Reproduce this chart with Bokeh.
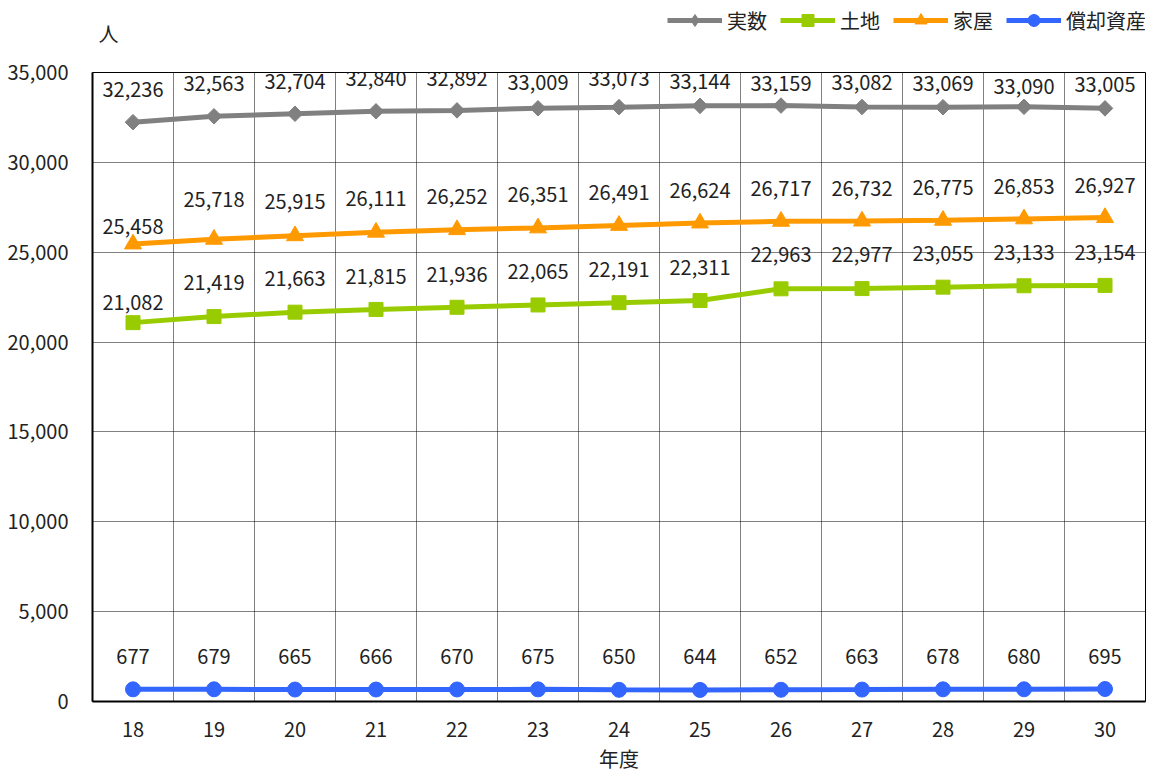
from bokeh.plotting import figure
from bokeh.models import (ColumnDataSource, FixedTicker, NumeralTickFormatter, Legend,
                          LegendItem, Range1d, Label)
from bokeh.layouts import column
from bokeh.core.properties import value
from bokeh.embed import file_html
from bokeh.resources import INLINE
import math

# ---- data ----
years = ["18", "19", "20", "21", "22", "23", "24", "25", "26", "27", "28", "29", "30"]
jissu = [32236, 32563, 32704, 32840, 32892, 33009, 33073, 33144, 33159, 33082, 33069, 33090, 33005]
tochi = [21082, 21419, 21663, 21815, 21936, 22065, 22191, 22311, 22963, 22977, 23055, 23133, 23154]
kaoku = [25458, 25718, 25915, 26111, 26252, 26351, 26491, 26624, 26717, 26732, 26775, 26853, 26927]
shokyaku = [677, 679, 665, 666, 670, 675, 650, 644, 652, 663, 678, 680, 695]
series_names = ["実数", "土地", "家屋", "償却資産"]
y_ticks = [0, 5000, 10000, 15000, 20000, 25000, 30000, 35000]

# ---- label placement (style, pixels) ----
jissu_off = [-33, -33, -32, -33, -32, -26, -29, -24, -22, -24, -24, -20, -24]
tochi_off = [-20, -34, -34, -33, -33, -33, -33, -33, -34, -34, -34, -33, -33]
kaoku_off = [-17, -40, -34, -34, -33, -33, -33, -33, -33, -33, -33, -32, -32]
shokyaku_off = [-33] * 13

FONT = "Noto Sans CJK JP"
TXT = "#222222"

xs = list(range(len(years)))

# ---------- header strip: unit label + legend ----------
top = figure(width=1160, height=50, output_backend="svg", toolbar_location=None,
             x_range=Range1d(0, 1), y_range=Range1d(0, 1),
             x_axis_location=None, y_axis_location=None,
             min_border_left=0, min_border_right=0, min_border_top=0, min_border_bottom=0)
top.outline_line_color = None
top.xgrid.visible = False
top.ygrid.visible = False
top.background_fill_color = "white"
top.border_fill_color = "white"

# ---------- main chart ----------
p = figure(width=1160, height=725, output_backend="svg", toolbar_location=None,
           x_range=Range1d(-0.5, len(years) - 0.5), y_range=Range1d(0, 35000),
           min_border_left=92, min_border_right=15, min_border_top=22, min_border_bottom=72)

p.background_fill_color = "white"
p.border_fill_color = "white"
p.outline_line_color = "black"
p.outline_line_width = 1

p.xaxis.ticker = FixedTicker(ticks=xs)
p.xaxis.major_label_overrides = {i: y for i, y in enumerate(years)}
p.yaxis.ticker = FixedTicker(ticks=y_ticks)
p.yaxis.formatter = NumeralTickFormatter(format="0,0")
for ax in (p.xaxis[0], p.yaxis[0]):
    ax.axis_line_color = "black"
    ax.axis_line_width = 2
    ax.major_tick_line_color = None
    ax.minor_tick_line_color = None
    ax.major_label_text_font = FONT
    ax.major_label_text_font_size = "20px"
    ax.major_label_text_color = TXT
p.yaxis.major_label_standoff = 18
p.xaxis.major_label_standoff = 14
p.xaxis.axis_label = "年度"
p.xaxis.axis_label_text_font = FONT
p.xaxis.axis_label_text_font_size = "20px"
p.xaxis.axis_label_text_font_style = "normal"
p.xaxis.axis_label_text_color = TXT
p.xaxis.axis_label_standoff = 4

p.xgrid.ticker = FixedTicker(ticks=[i + 0.5 for i in xs[:-1]])
p.xgrid.grid_line_color = "black"
p.xgrid.grid_line_dash = "1 1"
p.xgrid.grid_line_width = 1
p.ygrid.ticker = FixedTicker(ticks=y_ticks[1:-1])
p.ygrid.grid_line_color = "black"
p.ygrid.grid_line_dash = "1 1"
p.ygrid.grid_line_width = 1

styles = [
    (jissu, jissu_off, "#808080", "square", 11, math.pi / 4, "diamond", 15),
    (tochi, tochi_off, "#99cc00", "square", 14, 0, "square", 11),
    (kaoku, kaoku_off, "#ff9900", "triangle", 17, 0, "triangle", 13),
    (shokyaku, shokyaku_off, "#3366ff", "circle", 15, 0, "circle", 12),
]

items = []
for name, (vals, offs, color, marker, size, ang, lmarker, lsize) in zip(series_names, styles):
    src = ColumnDataSource(dict(x=xs, y=vals, lab=[f"{v:,}" for v in vals], off=offs))
    p.line("x", "y", source=src, line_color=color, line_width=5)
    p.scatter("x", "y", source=src, marker=marker, size=size, angle=ang,
              fill_color=color, line_color=color)
    p.text("x", "y", text="lab", source=src, y_offset="off", text_align="center",
           text_baseline="middle", text_font=value(FONT), text_font_size="20px",
           text_color=TXT)
    # legend proxies in the header strip (kept outside its visible range)
    proxy = ColumnDataSource(dict(x=[-10, -9], y=[-10, -10]))
    lr = top.line("x", "y", source=proxy, line_color=color, line_width=5)
    mr = top.scatter("x", "y", source=proxy, marker=lmarker, size=lsize,
                     fill_color=color, line_color=color)
    items.append(LegendItem(label=name, renderers=[lr, mr]))

legend = Legend(items=items, orientation="horizontal", location=(575, 15),
                glyph_width=55, glyph_height=30, label_standoff=5, spacing=13,
                padding=0, margin=0, label_text_font=FONT, label_text_font_size="20px",
                label_text_color=TXT, background_fill_alpha=0, border_line_color=None)
top.add_layout(legend, "center")

top.add_layout(Label(x=16, y=17, x_units="screen", y_units="screen", text="人",
                     text_align="center", text_baseline="middle", text_font=FONT,
                     text_font_size="20px", text_color=TXT))

layout = column(top, p, spacing=0)
open("out.html", "w").write(file_html(layout, INLINE))
